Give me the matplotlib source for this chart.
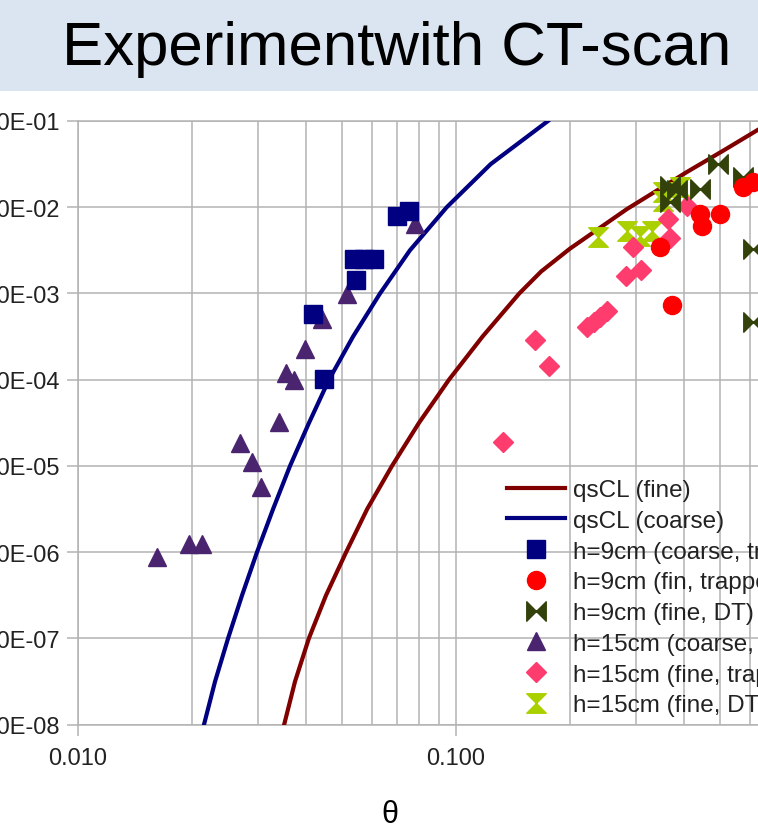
import matplotlib
matplotlib.use("Agg")
import matplotlib.pyplot as plt
from matplotlib.path import Path
from matplotlib.lines import Line2D
from matplotlib.patches import Rectangle
from matplotlib.ticker import FuncFormatter, FixedLocator, LogLocator, NullLocator, NullFormatter

plt.rcParams['font.family'] = ['Liberation Sans', 'DejaVu Sans']

# model curves
theta_fine = [0.0351, 0.0375, 0.0408, 0.0453, 0.0512, 0.0582, 0.0677, 0.0798, 0.0958, 0.1175,
              0.147, 0.168, 0.2, 0.283, 0.408, 0.508, 0.629, 0.698]
qs_fine = [1e-8, 3.16e-8, 1e-7, 3.16e-7, 1e-6, 3.16e-6, 1e-5, 3.16e-5, 1e-4, 3.16e-4,
           1e-3, 1.8e-3, 3.3e-3, 9.5e-3, 0.0256, 0.045, 0.079, 0.1]

theta_coarse = [0.02154, 0.02304, 0.02494, 0.02716, 0.02975, 0.03281, 0.03638, 0.04084, 0.04613,
                0.0534, 0.06295, 0.0755, 0.0945, 0.1235, 0.1751]
qs_coarse = [1e-8, 3.16e-8, 1e-7, 3.16e-7, 1e-6, 3.16e-6, 1e-5, 3.16e-5, 1e-4,
             3.16e-4, 1e-3, 3.16e-3, 1e-2, 0.0316, 0.1]

# h=9cm (coarse, trapped)
th_9c_tr = [0.0698, 0.0751, 0.0537, 0.0571, 0.0607, 0.0544, 0.0419, 0.0447]
q_9c_tr = [7.9e-3, 9.0e-3, 2.5e-3, 2.5e-3, 2.5e-3, 1.43e-3, 5.8e-4, 1.02e-4]

# h=9cm (fin, trapped)
th_9f_tr = [0.3465, 0.3726, 0.442, 0.448, 0.499, 0.574, 0.611]
q_9f_tr = [3.45e-3, 7.3e-4, 8.3e-3, 6.0e-3, 8.3e-3, 0.0171, 0.0196]

# h=9cm (fine, DT)
th_9f_dt = [0.368, 0.385, 0.368, 0.442, 0.493, 0.574, 0.611, 0.611]
q_9f_dt = [0.0176, 0.0160, 0.0115, 0.0163, 0.0317, 0.0224, 3.27e-3, 4.66e-4]

# h=15cm (coarse, trapped)
th_15c_tr = [0.0779, 0.0515, 0.0442, 0.0399, 0.0355, 0.0373, 0.0340, 0.0268, 0.0289, 0.0305, 0.0162, 0.0197, 0.0213]
q_15c_tr = [6.4e-3, 9.8e-4, 5.0e-4, 2.26e-4, 1.19e-4, 9.9e-5, 3.2e-5, 1.84e-5, 1.11e-5, 5.7e-6, 8.8e-7, 1.24e-6, 1.24e-6]

# h=15cm (fine, trapped)
th_15f_tr = [0.1331, 0.1618, 0.1762, 0.2222, 0.2317, 0.2404, 0.2509, 0.2817, 0.3086, 0.294, 0.3637, 0.368, 0.4084]
q_15f_tr = [1.89e-5, 2.88e-4, 1.44e-4, 4.07e-4, 4.66e-4, 5.32e-4, 6.25e-4, 1.59e-3, 1.87e-3, 3.45e-3, 7.3e-3, 4.4e-3, 0.0103]

# h=15cm (fine, DT)
th_15f_dt = [0.2376, 0.2834, 0.3068, 0.33, 0.353, 0.3914, 0.352]
q_15f_dt = [4.5e-3, 5.3e-3, 4.6e-3, 5.3e-3, 0.015, 0.0171, 0.0118]

labels = ['qsCL (fine)', 'qsCL (coarse)', 'h=9cm (coarse, trapped)', 'h=9cm (fin, trapped)',
          'h=9cm (fine, DT)', 'h=15cm (coarse, trapped)', 'h=15cm (fine, trapped)', 'h=15cm (fine, DT)']

M, L, C = Path.MOVETO, Path.LINETO, Path.CLOSEPOLY
bowtie = Path([(-1, -1), (0, 0), (-1, 1), (-1, -1), (1, 1), (0, 0), (1, -1), (1, 1)],
              [M, L, L, C, M, L, L, C])
hourglass = Path([(-1, 1), (1, 1), (0, 0), (-1, 1), (-1, -1), (1, -1), (0, 0), (-1, -1)],
                 [M, L, L, C, M, L, L, C])

fig = plt.figure(figsize=(7.58, 8.37), dpi=100)
fig.add_artist(Rectangle((0, 1 - 92 / 837), 1, 92 / 837, transform=fig.transFigure,
                         facecolor='#dbe5f1', edgecolor='none', zorder=0))
fig.text(62 / 758, 1 - 49 / 837, 'Experimentwith CT-scan', fontsize=44.5, ha='left', va='center')

ax = fig.add_axes([78 / 758, 1 - 725.7 / 837, 756 / 758, (725.7 - 122) / 837])
ax.set_xscale('log')
ax.set_yscale('log')

ax.plot(theta_fine, qs_fine, color='#800000', lw=3, zorder=3)
ax.plot(theta_coarse, qs_coarse, color='#000080', lw=3, zorder=3)

# series drawn in reverse so earlier ones end up on top
ax.plot(th_15f_dt, q_15f_dt, ls='none', marker=hourglass, ms=14, color='#aad000', zorder=4)
ax.plot(th_15f_tr, q_15f_tr, ls='none', marker='D', ms=10, color='#ff3c6e', zorder=5)
ax.plot(th_15c_tr, q_15c_tr, ls='none', marker='^', ms=13, color='#4b2470', zorder=6)
ax.plot(th_9f_dt, q_9f_dt, ls='none', marker=bowtie, ms=14, color='#33420a', zorder=7)
ax.plot(th_9f_tr, q_9f_tr, ls='none', marker='o', ms=13, color='#ff0000', zorder=8)
ax.plot(th_9c_tr, q_9c_tr, ls='none', marker='s', ms=13, color='#000080', zorder=9)

ax.set_xlim(0.01, 1.0)
ax.set_ylim(1e-8, 1e-1)
ax.xaxis.set_major_locator(FixedLocator([0.01, 0.1, 1.0]))
ax.xaxis.set_minor_locator(LogLocator(base=10, subs=[2, 3, 4, 5, 6, 7, 8, 9], numticks=20))
ax.xaxis.set_major_formatter(FuncFormatter(lambda v, p: f'{v:.3f}'))
ax.xaxis.set_minor_formatter(NullFormatter())
ax.yaxis.set_major_locator(LogLocator(base=10, numticks=20))
ax.yaxis.set_minor_locator(NullLocator())
ax.yaxis.set_major_formatter(FuncFormatter(lambda v, p: f'{v:.1E}'))

grid_c = '#b3b3b3'
ax.grid(True, which='major', color=grid_c, lw=1.1)
ax.grid(True, which='minor', axis='x', color=grid_c, lw=1.1)
ax.set_axisbelow(True)
for s in ['left', 'bottom', 'top']:
    ax.spines[s].set_color(grid_c)
    ax.spines[s].set_linewidth(1.1)
ax.spines['right'].set_visible(False)
ax.tick_params(which='major', length=8, width=1.1, color=grid_c, labelsize=17,
               labelcolor='#222222')
ax.tick_params(axis='x', which='major', pad=8)
ax.tick_params(axis='y', which='major', pad=5)
ax.tick_params(which='minor', length=0)

fig.text(390 / 758, 1 - 815 / 837, 'θ', fontsize=22, ha='center', va='center')

handles = [
    Line2D([], [], color='#800000', lw=3),
    Line2D([], [], color='#000080', lw=3),
    Line2D([], [], ls='none', marker='s', ms=13, color='#000080'),
    Line2D([], [], ls='none', marker='o', ms=13, color='#ff0000'),
    Line2D([], [], ls='none', marker=bowtie, ms=14, color='#33420a'),
    Line2D([], [], ls='none', marker='^', ms=13, color='#4b2470'),
    Line2D([], [], ls='none', marker='D', ms=10, color='#ff3c6e'),
    Line2D([], [], ls='none', marker=hourglass, ms=14, color='#aad000'),
]
fig.legend(handles, labels, loc='upper left', bbox_to_anchor=(507 / 758, 1 - 480 / 837),
           frameon=False, fontsize=17.5, handlelength=2.4, handletextpad=0.3,
           labelspacing=0.36, borderpad=0, borderaxespad=0, labelcolor='#222222')

fig.savefig('out.png', dpi=100)
